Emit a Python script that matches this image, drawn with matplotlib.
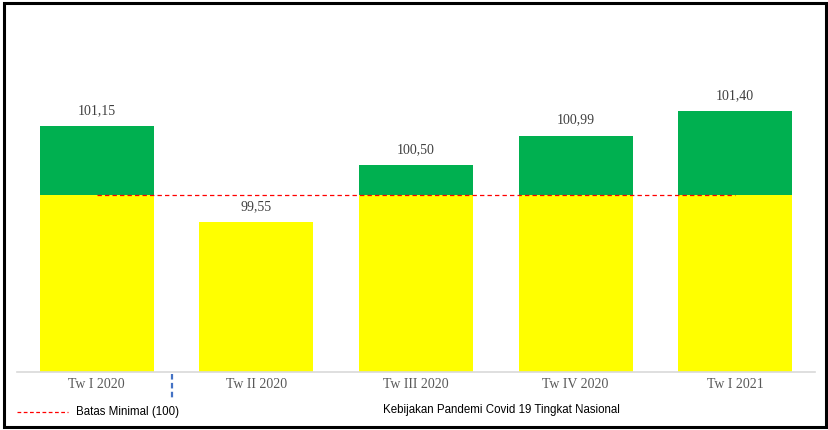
import matplotlib
matplotlib.use("Agg")
import matplotlib.pyplot as plt
from matplotlib.patches import Rectangle
from matplotlib.lines import Line2D

categories = ["Tw I 2020", "Tw II 2020", "Tw III 2020", "Tw IV 2020", "Tw I 2021"]
values = [101.15, 99.55, 100.50, 100.99, 101.40]
value_labels = ["101,15", "99,55", "100,50", "100,99", "101,40"]
threshold = 100
threshold_label = "Batas Minimal (100)"
policy_label = "Kebijakan Pandemi Covid 19 Tingkat Nasional"

YELLOW = "#FFFF00"
GREEN = "#00B050"

fig = plt.figure(figsize=(8.29, 4.30), dpi=100)
W, H = 829, 430
ax = fig.add_axes([17 / W, 58 / H, (815 - 17) / W, (372 - 10) / H])

ybase = 97.05
x = list(range(len(categories)))
yellow_h = [min(v, threshold) - ybase for v in values]
green_h = [max(v - threshold, 0) for v in values]
ax.bar(x, yellow_h, bottom=ybase, width=0.715, color=YELLOW, zorder=2)
ax.bar(x, green_h, bottom=[ybase + h for h in yellow_h], width=0.715, color=GREEN, zorder=2)

ax.plot([x[0], x[-1]], [threshold, threshold], color="#FF0000", lw=0.9,
        ls=(0, (3.5, 2.5)), zorder=3)

for xi, v, lab in zip(x, values, value_labels):
    ax.annotate(lab, (xi, v), xytext=(0, 6.5), textcoords="offset points",
                ha="center", va="bottom", fontsize=10, color="#404040",
                family="Liberation Serif")

ax.set_xlim(-0.5, len(categories) - 0.5)
ax.set_ylim(ybase, ybase + 362 / 60)
for s in ["top", "right", "left"]:
    ax.spines[s].set_visible(False)
ax.spines["bottom"].set_color("#D9D9D9")
ax.spines["bottom"].set_linewidth(1.2)
ax.set_yticks([])
ax.set_xticks(x)
ax.set_xticklabels(categories, family="Liberation Serif", fontsize=10, color="#595959")
ax.tick_params(axis="x", length=0, pad=4.5)

# blue separator below axis
ax.plot([0.47, 0.47], [ybase - 0.03, ybase - 0.43], color="#4472C4", lw=1.6,
        ls=(0, (2.5, 1.5)), clip_on=False, zorder=3)

# legend-like items
fig.add_artist(Line2D([17 / W, 68 / W], [1 - 412 / H, 1 - 412 / H], color="#FF0000",
                      lw=0.9, ls=(0, (3, 2))))
fig.text(76 / W, 1 - 412 / H, threshold_label, family="Liberation Sans", fontsize=8.3,
         va="center", ha="left", color="black")
fig.text(383 / W, 1 - 410 / H, policy_label, family="Liberation Sans", fontsize=8.3,
         va="center", ha="left", color="black")

# figure border
fig.add_artist(Rectangle((4 / W, 3 / H), (826 - 4) / W, (427 - 3) / H, transform=fig.transFigure,
                         fill=False, edgecolor="black", lw=2.2))

fig.savefig("out.png", dpi=100)
